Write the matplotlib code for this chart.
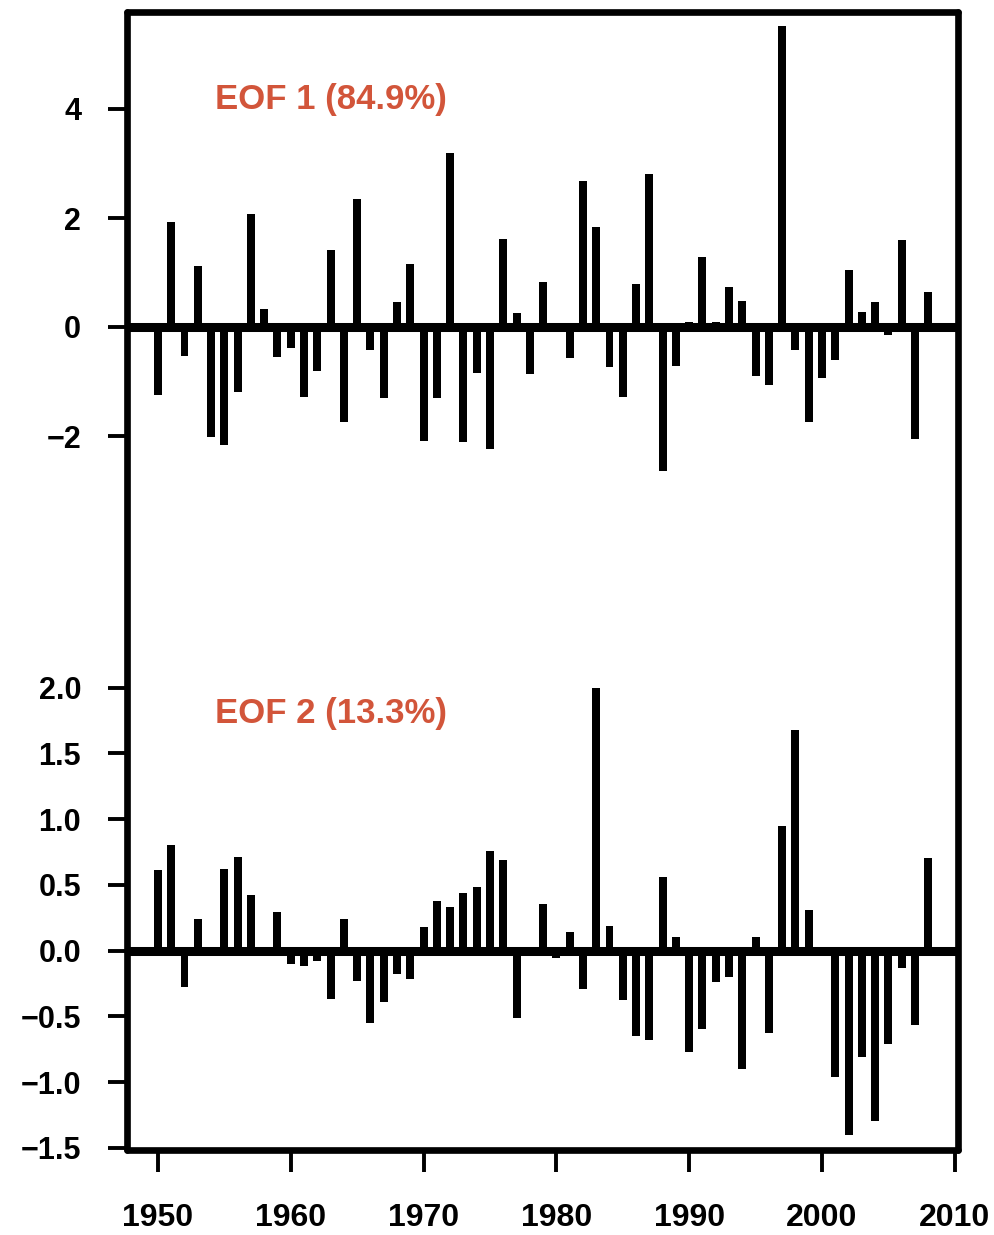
import matplotlib
matplotlib.use('Agg')
import matplotlib.pyplot as plt

# 年份 1950-2008
years = list(range(1950, 2009))

# EOF1 时间系数
eof1 = [-1.25, 1.93, -0.53, 1.12, -2.02, -2.17, -1.19, 2.07, 0.33, -0.55,
        -0.39, -1.29, -0.80, 1.41, -1.74, 2.35, -0.42, -1.31, 0.46, 1.15,
        -2.09, -1.30, 3.19, -2.11, -0.85, -2.23, 1.61, 0.25, -0.86, 0.83,
        0.00, -0.57, 2.68, 1.84, -0.73, -1.29, 0.78, 2.80, -2.65, -0.71,
        0.10, 1.29, 0.09, 0.74, 0.48, -0.90, -1.06, 5.52, -0.42, -1.74,
        -0.93, -0.61, 1.05, 0.28, 0.46, -0.15, 1.60, -2.06, 0.65]

# EOF2 时间系数
eof2 = [0.61, 0.80, -0.28, 0.24, 0.00, 0.62, 0.71, 0.42, -0.03, 0.29,
        -0.10, -0.12, -0.08, -0.37, 0.24, -0.23, -0.55, -0.39, -0.18, -0.22,
        0.18, 0.38, 0.33, 0.44, 0.48, 0.76, 0.69, -0.51, 0.00, 0.35,
        -0.06, 0.14, -0.29, 2.00, 0.19, -0.38, -0.65, -0.68, 0.56, 0.10,
        -0.77, -0.60, -0.24, -0.20, -0.90, 0.10, -0.63, 0.95, 1.68, 0.31,
        -0.04, -0.96, -1.40, -0.81, -1.30, -0.71, -0.13, -0.57, 0.70]

labels = ['EOF 1 (84.9%)', 'EOF 2 (13.3%)']
yticks1 = [-2, 0, 2, 4]
yticklabels1 = ['\u22122', '0', '2', '4']
yticks2 = [-1.5, -1.0, -0.5, 0.0, 0.5, 1.0, 1.5, 2.0]
yticklabels2 = ['\u22121.5', '\u22121.0', '\u22120.5', '0.0',
                '0.5', '1.0', '1.5', '2.0']
xticks = [1950, 1960, 1970, 1980, 1990, 2000, 2010]

plt.rcParams['font.family'] = ['Liberation Sans', 'DejaVu Sans']
plt.rcParams['font.weight'] = 'bold'

W, H = 994, 1235
fig = plt.figure(figsize=(W / 100, H / 100), dpi=100)


# 像素坐标转成 figure 坐标
def box(x0, y0, x1, y1):
    return [x0 / W, 1 - y1 / H, (x1 - x0) / W, (y1 - y0) / H]


left, right = 127, 958
xlim = (1947.67, 2010.24)
red = '#d2553a'

# 外框
frame = fig.add_axes(box(left, 12, right, 1150))
frame.set_xticks([])
frame.set_yticks([])
frame.patch.set_alpha(0)
for s in frame.spines.values():
    s.set_linewidth(4.8)
    s.set_capstyle('round')

# 上图 EOF1: 0 在 y=327, 每单位 54.5 像素
ax1 = fig.add_axes(box(left, 12, right, 480))
ax1.set_ylim((327 - 480) / 54.5, (327 - 12) / 54.5)
# 下图 EOF2: 0 在 y=950.5, 每单位 131.5 像素
ax2 = fig.add_axes(box(left, 560, right, 1150))
ax2.set_ylim((950.5 - 1150) / 131.5, (950.5 - 560) / 131.5)

panels = [(ax1, eof1, labels[0], yticks1, yticklabels1, (327 - 100) / 54.5),
          (ax2, eof2, labels[1], yticks2, yticklabels2, (950.5 - 713) / 131.5)]

for ax, vals, lab, yt, ytl, ty in panels:
    ax.set_xlim(xlim)
    ax.set_frame_on(False)
    ax.patch.set_alpha(0)
    ax.bar(years, vals, width=0.6, color='black', linewidth=0)
    ax.axhline(0, color='black', linewidth=6.5)
    ax.set_yticks(yt)
    ax.set_yticklabels(ytl)
    ax.tick_params(axis='y', direction='out', length=14, width=2.8,
                   pad=19, labelsize=22)
    # 标注方差贡献
    ax.text(1954.3, ty, lab, color=red, fontsize=25,
            fontweight='bold', va='center')

ax1.set_xticks([])
ax2.set_xticks(xticks)
ax2.tick_params(axis='x', direction='out', length=16, width=2.8,
                pad=22, labelsize=23)

fig.savefig('out.png', dpi=100)
